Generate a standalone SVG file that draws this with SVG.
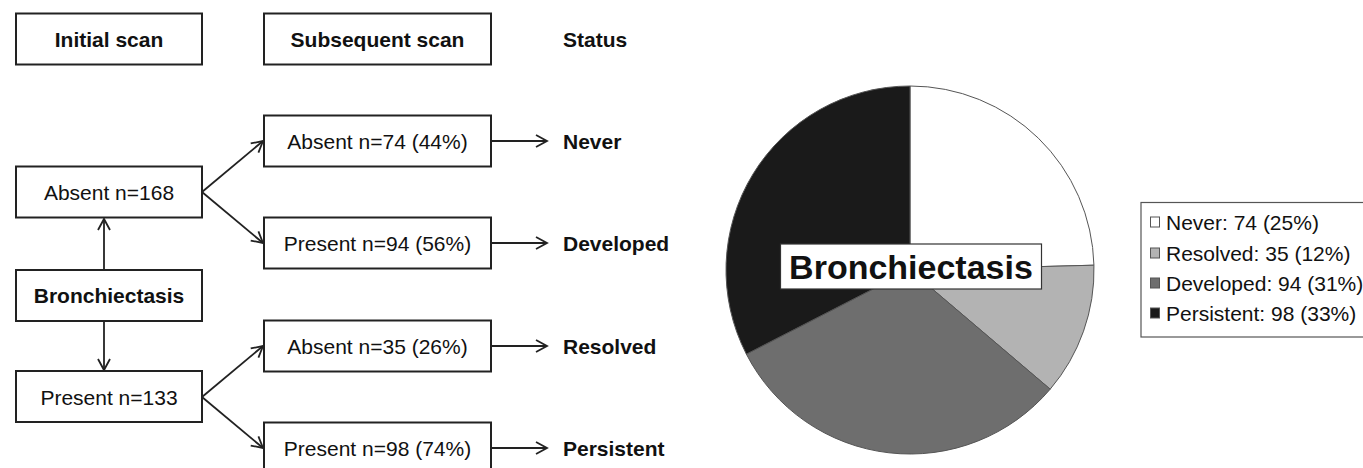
<svg xmlns="http://www.w3.org/2000/svg" width="1363" height="468" viewBox="0 0 1363 468">
<style>
.box{fill:#fff;stroke:#222;stroke-width:2}
.t{font-family:"Liberation Sans",Arial,sans-serif;font-size:21px;fill:#111;text-anchor:middle}
.b{font-weight:bold}
.st{font-family:"Liberation Sans",Arial,sans-serif;font-size:21px;font-weight:bold;fill:#111}
.lg{font-family:"Liberation Sans",Arial,sans-serif;font-size:21px;fill:#111}
.c{fill:none;stroke:#222;stroke-width:1.8;marker-end:url(#ah)}
.sl{stroke:#555;stroke-width:1}
</style>
<defs>
<marker id="ah" markerUnits="userSpaceOnUse" markerWidth="16" markerHeight="16" refX="12" refY="7" orient="auto">
<path d="M1,1 L12,7 L1,13" fill="none" stroke="#222" stroke-width="1.8"/>
</marker>
</defs>
<rect width="1363" height="468" fill="#fff"/>
<g id="connectors">
<line class="c" x1="104" y1="270" x2="104" y2="219"/>
<line class="c" x1="104" y1="322" x2="104" y2="370"/>
<line class="c" x1="202" y1="192" x2="263" y2="141"/>
<line class="c" x1="202" y1="192" x2="263" y2="243"/>
<line class="c" x1="202" y1="397" x2="263" y2="346"/>
<line class="c" x1="202" y1="397" x2="263" y2="448"/>
<line class="c" x1="491" y1="141" x2="547" y2="141"/>
<line class="c" x1="491" y1="243" x2="547" y2="243"/>
<line class="c" x1="491" y1="346" x2="547" y2="346"/>
<line class="c" x1="491" y1="448" x2="547" y2="448"/>
</g>
<g id="initial-scan"><rect class="box" x="16" y="13.5" width="186" height="51"/><text class="t b" x="109" y="46.5">Initial scan</text></g>
<g id="subsequent-scan"><rect class="box" x="264" y="13.5" width="227" height="51"/><text class="t b" x="377.5" y="46.5">Subsequent scan</text></g>
<g id="status"><text class="st" x="563" y="46.5">Status</text></g>
<g id="absent-168"><rect class="box" x="16" y="166.5" width="186" height="51"/><text class="t" x="109" y="199.5">Absent n=168</text></g>
<g id="bronchiectasis"><rect class="box" x="16" y="270" width="186" height="51"/><text class="t b" x="109" y="303">Bronchiectasis</text></g>
<g id="present-133"><rect class="box" x="16" y="371" width="186" height="51"/><text class="t" x="109" y="404.5">Present n=133</text></g>
<g id="absent-74"><rect class="box" x="264" y="115.5" width="227" height="51"/><text class="t" x="377.5" y="148.5">Absent n=74 (44%)</text></g>
<g id="present-94"><rect class="box" x="264" y="217.5" width="227" height="51"/><text class="t" x="377.5" y="250.5">Present n=94 (56%)</text></g>
<g id="absent-35"><rect class="box" x="264" y="320.5" width="227" height="51"/><text class="t" x="377.5" y="353.5">Absent n=35 (26%)</text></g>
<g id="present-98"><rect class="box" x="264" y="422.5" width="227" height="51"/><text class="t" x="377.5" y="455.5">Present n=98 (74%)</text></g>
<g id="never"><text class="st" x="563" y="148.5">Never</text></g>
<g id="developed"><text class="st" x="563" y="250.5">Developed</text></g>
<g id="resolved"><text class="st" x="563" y="353.5">Resolved</text></g>
<g id="persistent"><text class="st" x="563" y="455.5">Persistent</text></g>
<g id="pie">
<path class="sl" fill="#ffffff" d="M910,270 L910,86 A184,184 0 0 1 1093.94,265.2 Z"/>
<path class="sl" fill="#b3b3b3" d="M910,270 L1093.94,265.2 A184,184 0 0 1 1050.2,389.17 Z"/>
<path class="sl" fill="#6e6e6e" d="M910,270 L1050.2,389.17 A184,184 0 0 1 746.36,354.13 Z"/>
<path class="sl" fill="#1a1a1a" d="M910,270 L746.36,354.13 A184,184 0 0 1 910,86 Z"/>
</g>
<g id="pie-label"><rect x="780.5" y="244" width="261" height="45" fill="#fff" stroke="#333" stroke-width="1.2"/><text class="t b" x="911" y="279" style="font-size:34px">Bronchiectasis</text></g>
<g id="legend">
<rect x="1141" y="202.5" width="230" height="134.5" fill="#fff" stroke="#555" stroke-width="1.2"/>
<rect x="1150.5" y="217" width="9" height="10" fill="#fff" stroke="#555"/>
<rect x="1150.5" y="248" width="9" height="10" fill="#b3b3b3" stroke="#555"/>
<rect x="1150.5" y="278" width="9" height="10" fill="#6e6e6e" stroke="#555"/>
<rect x="1150.5" y="308" width="9" height="10" fill="#1a1a1a" stroke="#555"/>
<text class="lg" x="1166" y="229.5">Never: 74 (25%)</text>
<text class="lg" x="1166" y="260.5">Resolved: 35 (12%)</text>
<text class="lg" x="1166" y="290.5">Developed: 94 (31%)</text>
<text class="lg" x="1166" y="320.5">Persistent: 98 (33%)</text>
</g>
</svg>
